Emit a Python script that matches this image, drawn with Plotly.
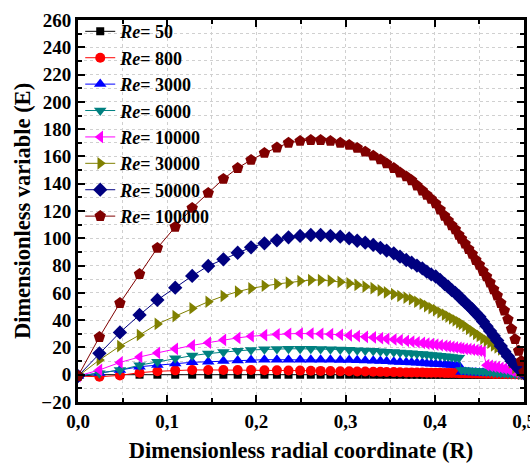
import plotly.graph_objects as go

R = [0, 0.024, 0.047, 0.069, 0.089, 0.109, 0.128, 0.146, 0.163, 0.179,
     0.194, 0.209, 0.223, 0.236, 0.249, 0.261, 0.272, 0.283, 0.294, 0.304,
     0.313, 0.322, 0.331, 0.339, 0.346, 0.354, 0.361, 0.368, 0.374, 0.380,
     0.386, 0.391, 0.396, 0.401, 0.406, 0.411, 0.415, 0.419, 0.423, 0.427,
     0.430, 0.434, 0.438, 0.442, 0.446, 0.450, 0.454, 0.458, 0.462, 0.466,
     0.470, 0.474, 0.478, 0.482, 0.486, 0.490, 0.494, 0.497, 0.500]

E_re50 = [-1, 0, 0, 0, 0, 0, 0, 0, 0, 0,
          0, 0, 0, 0, 0, 0, 0, 0, 0, 0,
          0, 0, 0, 0, 0, 0, 0, 0, 0, 0,
          0, 0, 0, 0, 0, 0, 0, 0, 0, 0,
          0, 0, 0, 0, 0, 0, 0, 0, 0, 0,
          0, 0, 0, 0, 0, 0, 0, 0, 0]

E_re800 = [-1, -1.5, -0.5, 1.5, 2.5, 3.2, 3.5, 3.5, 3.5, 3.5,
           3.4, 3.3, 3.2, 3.1, 3, 2.9, 2.8, 2.7, 2.6, 2.5,
           2.4, 2.3, 2.2, 2.1, 2, 1.9, 1.8, 1.7, 1.7, 1.6,
           1.6, 1.5, 1.5, 1.4, 1.4, 1.3, 1.3, 1.2, 1.2, 1.1,
           1.1, 1, 1, 0.9, 0.9, 0.8, 0.8, 0.7, 0.7, 0.6,
           0.6, 0.5, 0.5, 0.4, 0.4, 0.3, 0.2, 0.1, 0]

E_re3000 = [-1, 1.2, 3.4, 5.9, 7.1, 8.3, 9.1, 9.5, 10, 10.5,
            10.8, 11, 11, 11, 11, 11, 11, 10.9, 10.8, 10.7,
            10.6, 10.5, 10.3, 10.1, 9.9, 9.5, 9.3, 9.1, 8.9, 8.7,
            8.5, 8.3, 8.1, 7.9, 7.7, 7.5, 7.3, 7.1, 6.9, 6.7,
            2, 1.9, 1.8, 1.7, 1.6, 1.5, 1.4, 1.3, 1.2, 1.1,
            1, 0.9, 0.8, 0.7, 0.6, 0.5, 0.4, 0.3, 0.2]

E_re6000 = [-1, 1, 3.4, 7, 9.5, 12, 14, 15.5, 16.7, 17.5,
            18.2, 18.6, 18.9, 19, 19, 19, 18.9, 18.7, 18.5, 18.3,
            18, 17.8, 17.5, 17.2, 16.9, 16.6, 16.3, 16, 15.7, 15.4,
            15.1, 14.8, 14.5, 14.2, 13.9, 13.6, 13.3, 13, 12.7, 12.4,
            3.5, 3.3, 3.1, 2.9, 2.7, 2.5, 2.3, 2.1, 1.9, 1.7,
            1.5, 1.3, 1.1, 0.9, 0.7, 0.5, 0.3, 0.2, 0.1]

E_re10000 = [-1, 3.5, 9, 13, 16, 19, 21.5, 23.5, 25.5, 27,
             28.2, 29, 29.6, 30, 30.2, 30.2, 30, 29.7, 29.3, 28.8,
             28.3, 27.8, 27.3, 26.8, 26.3, 25.8, 25.3, 24.8, 24.3, 23.8,
             23.3, 22.8, 22.4, 22, 21.6, 21.2, 20.8, 20.4, 20, 19.6,
             19.3, 19, 18.7, 18.4, 18, 17.6, 17.2, 7, 6.5, 6,
             5.5, 5, 4.5, 4, 3, 2, 1.5, 1, 0.5]

E_re30000 = [-1, 10.8, 21, 29.1, 37.2, 43, 48.7, 53.5, 57.7, 60.9,
             63.3, 65.2, 66.5, 67.5, 68.7, 69.4, 69.4, 68.9, 68, 67,
             65.8, 64.6, 63.4, 61.8, 60.3, 59, 57.7, 56.5, 55.3, 53.5,
             52, 50.3, 48.8, 47.3, 45.6, 44, 42.6, 41.2, 39.8, 38.3,
             37.2, 35.7, 33.5, 32, 30, 28.5, 26.5, 25, 23.5, 21.5,
             20, 18.5, 17, 14, 9, 5, 3, 2, 1]

E_re50000 = [-1, 15.7, 31, 43.8, 54.8, 63.8, 72.4, 79.7, 84.6, 89.4,
             93.4, 96.3, 98.5, 100.7, 101.7, 102.4, 102.4, 101.8, 101.2, 100,
             98.2, 96.8, 95.1, 93, 91, 89, 86.5, 84.1, 82.1, 80,
             78, 75.5, 73.5, 72, 69.5, 66.5, 64.5, 62, 60, 57.5,
             55.5, 53, 50.5, 48, 45, 42.5, 39, 35.5, 32, 28.5,
             25, 21, 17, 13.5, 10, 7, 4.5, 2.5, 1]

E_re100000 = [-1, 27.6, 52.5, 73.8, 92.9, 108.3, 122.2, 133.2, 143.5, 151.5,
              157.4, 162.5, 166.5, 170, 171.3, 172, 172, 171.3, 170, 168.4,
              166.2, 163.5, 160.5, 157.8, 154.8, 151.5, 148.2, 145.3, 142.5, 138.6,
              135, 131.8, 128.8, 125.5, 121, 116.5, 113, 109.5, 106.5, 102.5,
              99.5, 96, 92, 88.5, 84, 80.5, 76, 72, 67.5, 62.5,
              58, 52.5, 47, 40.5, 33.5, 26, 17.5, 10, 2]

re_labels = ["50", "800", "3000", "6000", "10000", "30000", "50000", "100000"]
series = [E_re50, E_re800, E_re3000, E_re6000, E_re10000, E_re30000, E_re50000, E_re100000]
colors = ["#000000", "#FF0000", "#0000FF", "#008080", "#FF00FF", "#808000", "#000080", "#800000"]
symbols = ["square", "circle", "triangle-up", "triangle-down", "triangle-left",
           "triangle-right", "diamond", "pentagon"]
sizes = [8, 10, 11, 11, 11, 11, 11, 12]

FONT = "Liberation Serif"

fig = go.Figure()
for lab, ys, c, s, sz in zip(re_labels, series, colors, symbols, sizes):
    fig.add_trace(go.Scatter(
        x=R, y=ys, mode="lines+markers",
        name="<b><i>Re</i>= " + lab + "</b>",
        line=dict(color=c, width=1),
        marker=dict(symbol=s, size=sz, color=c, line=dict(width=0)),
    ))

axis_common = dict(
    showline=True, linewidth=3, linecolor="black", mirror="allticks",
    ticks="inside", ticklen=7, tickwidth=2, tickcolor="black",
    showgrid=True, gridcolor="#d0d0d0", gridwidth=1, griddash="dot",
    zeroline=False,
    tickfont=dict(family=FONT, size=19, color="black", weight="bold"),
    ticklabeloverflow="allow",
)

fig.update_xaxes(
    range=[0, 0.5], dtick=0.1, tick0=0, tickformat=".1f",
    minor=dict(dtick=0.05, ticks="inside", ticklen=4, tickwidth=1.5, tickcolor="black",
               showgrid=True, gridcolor="#d0d0d0", griddash="dot"),
    title=dict(text="<b>Dimensionless radial coordinate (R)</b>",
               font=dict(family=FONT, size=22.5, color="black"), standoff=12),
    automargin=False,
    **axis_common,
)
fig.update_yaxes(
    range=[-20, 260], dtick=20, tick0=0,
    minor=dict(dtick=10, ticks="inside", ticklen=4, tickwidth=1.5, tickcolor="black",
               showgrid=True, gridcolor="#d0d0d0", griddash="dot"),
    title=dict(text="<b>Dimensionless variable (E)</b>",
               font=dict(family=FONT, size=22.5, color="black"), standoff=5),
    automargin=False,
    **axis_common,
)

fig.update_layout(
    width=530, height=463,
    margin=dict(l=78, r=6, t=20, b=61),
    paper_bgcolor="white", plot_bgcolor="white",
    separators=",.",
    showlegend=True,
    legend=dict(x=0.005, y=1.018, xanchor="left", yanchor="top",
                bgcolor="rgba(0,0,0,0)", borderwidth=0,
                font=dict(family=FONT, size=18, color="black"),
                tracegroupgap=0, itemwidth=30),
)

fig.write_html("out.html")
